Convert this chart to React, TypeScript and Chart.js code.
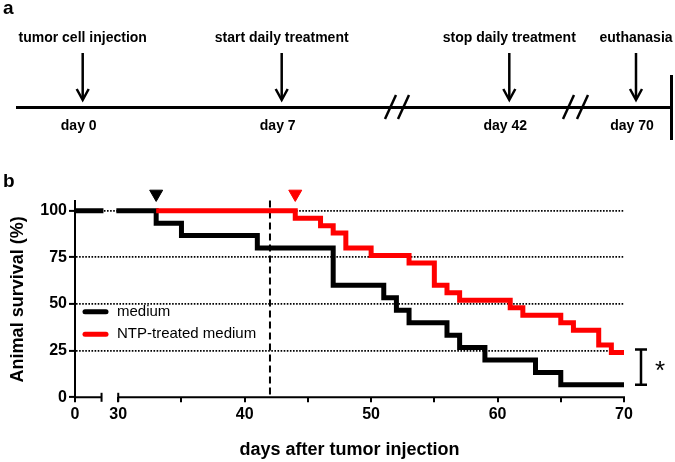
import React, { useEffect, useRef } from 'react';
import { Chart, registerables } from 'chart.js';

Chart.register(...registerables);

const FONT = '"Liberation Sans", Arial, Helvetica, sans-serif';

// ---- Panel a: experimental timeline ----
const timelineEvents = ['tumor cell injection', 'start daily treatment', 'stop daily treatment', 'euthanasia'];
const timelineDayLabels = ['day 0', 'day 7', 'day 42', 'day 70'];

// ---- Panel b: survival curves ----
const seriesNames = ['medium', 'NTP-treated medium'];
const seriesColors = ['#000000', '#ff0000'];
const mediumDays = [0, 33, 35, 41, 47, 51, 52, 53, 56, 57, 59, 63, 65, 70];
const mediumSurvival = [100, 93.3, 86.7, 80, 60, 53.3, 46.7, 40, 33.3, 26.7, 20, 13.3, 6.7, 6.7];
const ntpDays = [33, 44, 46, 47, 48, 50, 53, 55, 56, 57, 61, 62, 65, 66, 68, 69, 70];
const ntpSurvival = [100, 96, 92, 88, 80, 76, 72, 60, 56, 52, 48, 44, 40, 36, 28, 24, 24];
const markerDays = [33, 44];
const markerLevel = 109;
const treatmentStopDay = 42;
const yTicks = [0, 25, 50, 75, 100];
const xTickDays = [0, 30, 35, 40, 45, 50, 55, 60, 65, 70];
const xTickLabels = ['0', '30', '', '40', '', '50', '', '60', '', '70'];
const significanceLabel = '*';

// broken x axis: days 0..SEG1_END on first piece, days >= 30 on second piece
const SEG1_END = 2.1;
const SEG2_START = 30;
const SEG2_POS = 3.42;
const LINE_BREAK_END = 2.25;
const LINE_BREAK_RESUME = 29.85;
const toAxis = (d: number) => (d >= 15 ? d - SEG2_START + SEG2_POS : d);

function buildSteps(days: number[], vals: number[]) {
  const pts: { x: number; y: number | null }[] = [];
  for (let i = 0; i < days.length; i++) {
    if (i > 0 && days[i - 1] < 15 && days[i] >= 15) {
      const prev = vals[i - 1];
      pts.push({ x: toAxis(LINE_BREAK_END), y: prev });
      pts.push({ x: (toAxis(LINE_BREAK_END) + toAxis(LINE_BREAK_RESUME)) / 2, y: null });
      pts.push({ x: toAxis(LINE_BREAK_RESUME), y: prev });
    }
    pts.push({ x: toAxis(days[i]), y: vals[i] });
  }
  return pts;
}

const drawPlugin = {
  id: 'figureExtras',
  beforeDatasetsDraw(chart: any) {
    const { ctx, chartArea, scales } = chart;
    const x = scales.x.getPixelForValue(toAxis(treatmentStopDay));
    ctx.save();
    ctx.strokeStyle = '#000';
    ctx.lineWidth = 2;
    ctx.setLineDash([7, 4]);
    ctx.beginPath();
    ctx.moveTo(x, chartArea.top - 1);
    ctx.lineTo(x, chartArea.bottom);
    ctx.stroke();
    ctx.restore();
  },
  afterDraw(chart: any) {
    const { ctx, chartArea, scales } = chart;
    const xs = scales.x;
    const ys = scales.y;
    ctx.save();
    ctx.fillStyle = '#000';
    ctx.strokeStyle = '#000';

    // panel letters
    ctx.font = `bold 19px ${FONT}`;
    ctx.textAlign = 'left';
    ctx.textBaseline = 'alphabetic';
    ctx.fillText('a', 3, 14);
    ctx.fillText('b', 3, 187);

    // ---- panel a ----
    const lineY = 107.5;
    ctx.lineWidth = 3;
    ctx.beginPath();
    ctx.moveTo(16, lineY);
    ctx.lineTo(672, lineY);
    ctx.stroke();
    ctx.beginPath();
    ctx.moveTo(671.5, 75);
    ctx.lineTo(671.5, 140);
    ctx.stroke();

    const arrowX = [82.7, 281.7, 509.3, 636];
    ctx.lineWidth = 2.5;
    arrowX.forEach((ax) => {
      ctx.beginPath();
      ctx.moveTo(ax, 53);
      ctx.lineTo(ax, 99);
      ctx.stroke();
      ctx.beginPath();
      ctx.moveTo(ax - 6, 89);
      ctx.lineTo(ax, 100);
      ctx.lineTo(ax + 6, 89);
      ctx.stroke();
    });
    ctx.font = `bold 14px ${FONT}`;
    ctx.textAlign = 'center';
    timelineEvents.forEach((t, i) => ctx.fillText(t, arrowX[i], 42));
    timelineDayLabels.forEach((t, i) => ctx.fillText(t, arrowX[i] - 4, 129.5));

    // break marks
    const breaks = [[385, 398], [563, 577]];
    ctx.lineWidth = 2.5;
    breaks.forEach((pair) => {
      pair.forEach((bx) => {
        ctx.beginPath();
        ctx.moveTo(bx, 119);
        ctx.lineTo(bx + 11, 95);
        ctx.stroke();
      });
    });

    // ---- panel b: broken x axis ----
    const ay = chartArea.bottom;
    const x0 = xs.getPixelForValue(0);
    const x1 = xs.getPixelForValue(SEG1_END);
    const x2 = xs.getPixelForValue(SEG2_POS);
    const x3 = xs.getPixelForValue(toAxis(70));
    ctx.lineWidth = 2;
    ctx.beginPath();
    ctx.moveTo(x0 - 1, ay);
    ctx.lineTo(x1, ay);
    ctx.moveTo(x2, ay);
    ctx.lineTo(x3 + 1, ay);
    ctx.stroke();
    [x1, x2].forEach((bx) => {
      ctx.beginPath();
      ctx.moveTo(bx, ay - 4.5);
      ctx.lineTo(bx, ay + 4.5);
      ctx.stroke();
    });

    // legend
    ctx.font = `15px ${FONT}`;
    ctx.textAlign = 'left';
    ctx.textBaseline = 'middle';
    const legY = [311.7, 334.3];
    seriesNames.forEach((name, i) => {
      ctx.strokeStyle = seriesColors[i];
      ctx.lineWidth = 5;
      ctx.lineCap = 'round';
      ctx.beginPath();
      ctx.moveTo(chartArea.left + 10, legY[i]);
      ctx.lineTo(chartArea.left + 31, legY[i]);
      ctx.stroke();
      ctx.fillStyle = '#000';
      ctx.fillText(name, chartArea.left + 42, legY[i]);
    });
    ctx.lineCap = 'butt';

    // significance bracket
    const yTop = ys.getPixelForValue(ntpSurvival[ntpSurvival.length - 1]) - 3;
    const yBot = ys.getPixelForValue(mediumSurvival[mediumSurvival.length - 1]);
    const bx = chartArea.right + 17;
    ctx.strokeStyle = '#000';
    ctx.lineWidth = 2.5;
    ctx.beginPath();
    ctx.moveTo(bx - 6, yTop);
    ctx.lineTo(bx + 6, yTop);
    ctx.moveTo(bx, yTop);
    ctx.lineTo(bx, yBot);
    ctx.moveTo(bx - 6, yBot);
    ctx.lineTo(bx + 6, yBot);
    ctx.stroke();
    ctx.font = `26px ${FONT}`;
    ctx.textAlign = 'center';
    ctx.textBaseline = 'alphabetic';
    ctx.fillText(significanceLabel, bx + 19, (yTop + yBot) / 2 + 12);

    ctx.restore();
  },
};

export default function App() {
  const ref = useRef<HTMLCanvasElement | null>(null);
  useEffect(() => {
    if (!ref.current) return;
    const chart = new Chart(ref.current, {
      type: 'line',
      data: {
        datasets: [
          {
            label: 'markers',
            data: markerDays.map((d) => ({ x: toAxis(d), y: markerLevel })),
            showLine: false,
            pointStyle: 'triangle',
            rotation: 180,
            pointRadius: 7.5,
            pointBorderWidth: 1,
            pointBackgroundColor: seriesColors,
            pointBorderColor: seriesColors,
            clip: false as any,
            order: -1,
          } as any,
          {
            label: seriesNames[1],
            data: buildSteps(ntpDays, ntpSurvival),
            borderColor: seriesColors[1],
            borderWidth: 5,
            stepped: 'before',
            pointRadius: 0,
            fill: false,
            spanGaps: false,
            order: 0,
          },
          {
            label: seriesNames[0],
            data: buildSteps(mediumDays, mediumSurvival),
            borderColor: seriesColors[0],
            borderWidth: 5,
            stepped: 'before',
            pointRadius: 0,
            fill: false,
            spanGaps: false,
            order: 1,
          },
        ],
      },
      options: {
        responsive: false,
        animation: false,
        events: [],
        layout: { padding: { top: 201.4, left: 0, right: 51, bottom: 0 } },
        plugins: { legend: { display: false }, tooltip: { enabled: false } },
        scales: {
          x: {
            type: 'linear',
            min: 0,
            max: toAxis(70),
            afterBuildTicks: (scale: any) => {
              scale.ticks = xTickDays.map((d) => ({ value: toAxis(d) }));
            },
            afterFit: (scale: any) => {
              scale.height = 64.7;
            },
            ticks: {
              autoSkip: false,
              maxRotation: 0,
              padding: 3,
              color: '#000',
              font: { family: FONT, size: 16, weight: 'bold' },
              callback: (_v: any, i: number) => xTickLabels[i],
            },
            grid: {
              drawOnChartArea: false,
              drawTicks: true,
              tickLength: 5,
              tickWidth: 2,
              tickColor: '#000',
              color: '#000',
              lineWidth: 2,
            },
            border: { display: false },
            title: {
              display: true,
              text: 'days after tumor injection',
              color: '#000',
              font: { family: FONT, size: 18, weight: 'bold' },
              padding: { top: 0, bottom: 1 },
            },
          },
          y: {
            type: 'linear',
            min: 0,
            max: 105,
            afterBuildTicks: (scale: any) => {
              scale.ticks = yTicks.map((v) => ({ value: v }));
            },
            afterFit: (scale: any) => {
              scale.width = 75;
            },
            ticks: {
              padding: 2,
              color: '#000',
              font: { family: FONT, size: 16, weight: 'bold' },
              callback: (v: any) => String(v),
            },
            grid: {
              drawTicks: true,
              tickLength: 6,
              tickWidth: 2,
              tickColor: '#000',
              lineWidth: 1.8,
              color: (c: any) => (c.tick && c.tick.value === 0 ? 'rgba(0,0,0,0)' : '#000'),
            },
            border: { display: true, color: '#000', width: 2, dash: [1.6, 1.5] },
            title: {
              display: true,
              text: 'Animal survival (%)',
              color: '#000',
              font: { family: FONT, size: 18, weight: 'bold' },
              padding: { top: 7, bottom: 0 },
            },
          },
        },
      },
      plugins: [drawPlugin],
    } as any);
    return () => chart.destroy();
  }, []);
  return (
    <div style={{ position: 'fixed', left: 0, top: 0, width: 675, height: 462, background: '#fff' }}>
      <canvas ref={ref} width={675} height={462} style={{ display: 'block', width: 675, height: 462 }} />
    </div>
  );
}
